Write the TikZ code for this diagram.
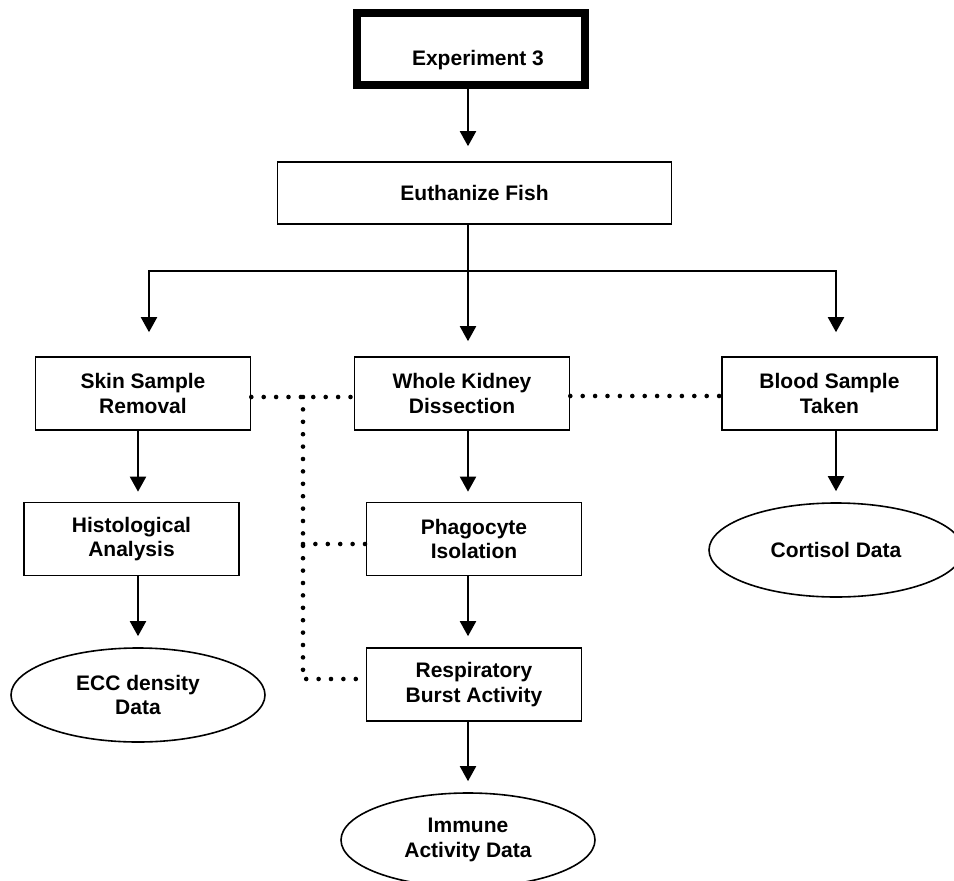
\documentclass[tikz,border=0pt]{standalone}
\usepackage{fontspec}
\setmainfont{Liberation Sans}
\usetikzlibrary{arrows.meta,shapes.geometric}

\begin{document}
\begin{tikzpicture}[x=1pt, y=-1pt, >={Triangle[length=15pt,width=16pt]},
	every node/.style={font=\fontsize{21}{24.5}\selectfont\bfseries, align=center, inner sep=0pt},
	stepbox/.style={draw, line width=1.6pt, minimum width=#1, minimum height=73pt},
	stepbox/.default=215pt,
	databox/.style={draw, ellipse, line width=1.6pt, minimum width=254pt, minimum height=94pt},
	link/.style={->, line width=2pt},
	dots/.style={line width=4.6pt, line cap=round, dash pattern=on 0pt off 12.4pt}]
	\useasboundingbox (0,0) rectangle (954,881);
	\node[draw, line width=8pt, minimum width=228pt, minimum height=72pt] (exp) at (471,49) {};
	\node (exptext) at (478,60) {Experiment 3};
	\node[stepbox=394pt, minimum height=62pt] (euth) at (474.5,193) {Euthanize Fish};
	\node[stepbox] (skin) at (143,393.5) {Skin Sample\\Removal};
	\node[stepbox] (kid) at (462,393.5) {Whole Kidney\\Dissection};
	\node[stepbox] (blood) at (829.5,393.5) {Blood Sample\\Taken};
	\node[stepbox] (hist) at (131.5,539) {Histological\\Analysis};
	\node[stepbox] (phag) at (474,539) {Phagocyte\\Isolation};
	\node[stepbox] (resp) at (474,684.5) {Respiratory\\Burst Activity};
	\node[databox] (ecc) at (138,695) {ECC density\\Data};
	\node[databox] (cort) at (836,550) {Cortisol Data};
	\node[databox] (imm) at (468,840) {Immune\\Activity Data};
	\coordinate (fork) at (468,271);
	\coordinate (forkL) at (149,271);
	\coordinate (forkR) at (836,271);
	\draw[link, shorten >=15pt] (exp.south -| imm) -- (euth.north -| imm);
	\draw[link, shorten >=15pt] (euth.south -| imm) -- (kid.north -| imm);
	\draw[link, shorten >=24pt] (fork) -- (forkL) -- (forkL |- skin.north);
	\draw[link, shorten >=24pt] (fork) -- (forkR) -- (forkR |- blood.north);
	\draw[link, shorten >=10pt] (skin.south -| ecc) -- (hist.north -| ecc);
	\draw[link, shorten >=11pt] (hist.south -| ecc) -- (ecc.north);
	\draw[link, shorten >=10pt] (kid.south -| imm) -- (phag.north -| imm);
	\draw[link, shorten >=11pt] (phag.south -| imm) -- (resp.north -| imm);
	\draw[link, shorten >=11pt] (resp.south -| imm) -- (imm.north);
	\draw[link, shorten >=11pt] (blood.south -| cort) -- (cort.north);
	\coordinate (tapS) at (303,397);
	\coordinate (tapP) at (303,544);
	\coordinate (tapR) at (303,679);
	\draw[dots] ([yshift=-3.5pt]skin.east) -- ([yshift=-3.5pt]kid.west);
	\draw[dots] ([yshift=-2.5pt]kid.east) -- ([yshift=-2.5pt]blood.west);
	\draw[dots] (tapS) -- (tapR) -- (tapR -| resp.west);
	\draw[dots] (tapP) -- (tapP -| phag.west);
\end{tikzpicture}
\end{document}
